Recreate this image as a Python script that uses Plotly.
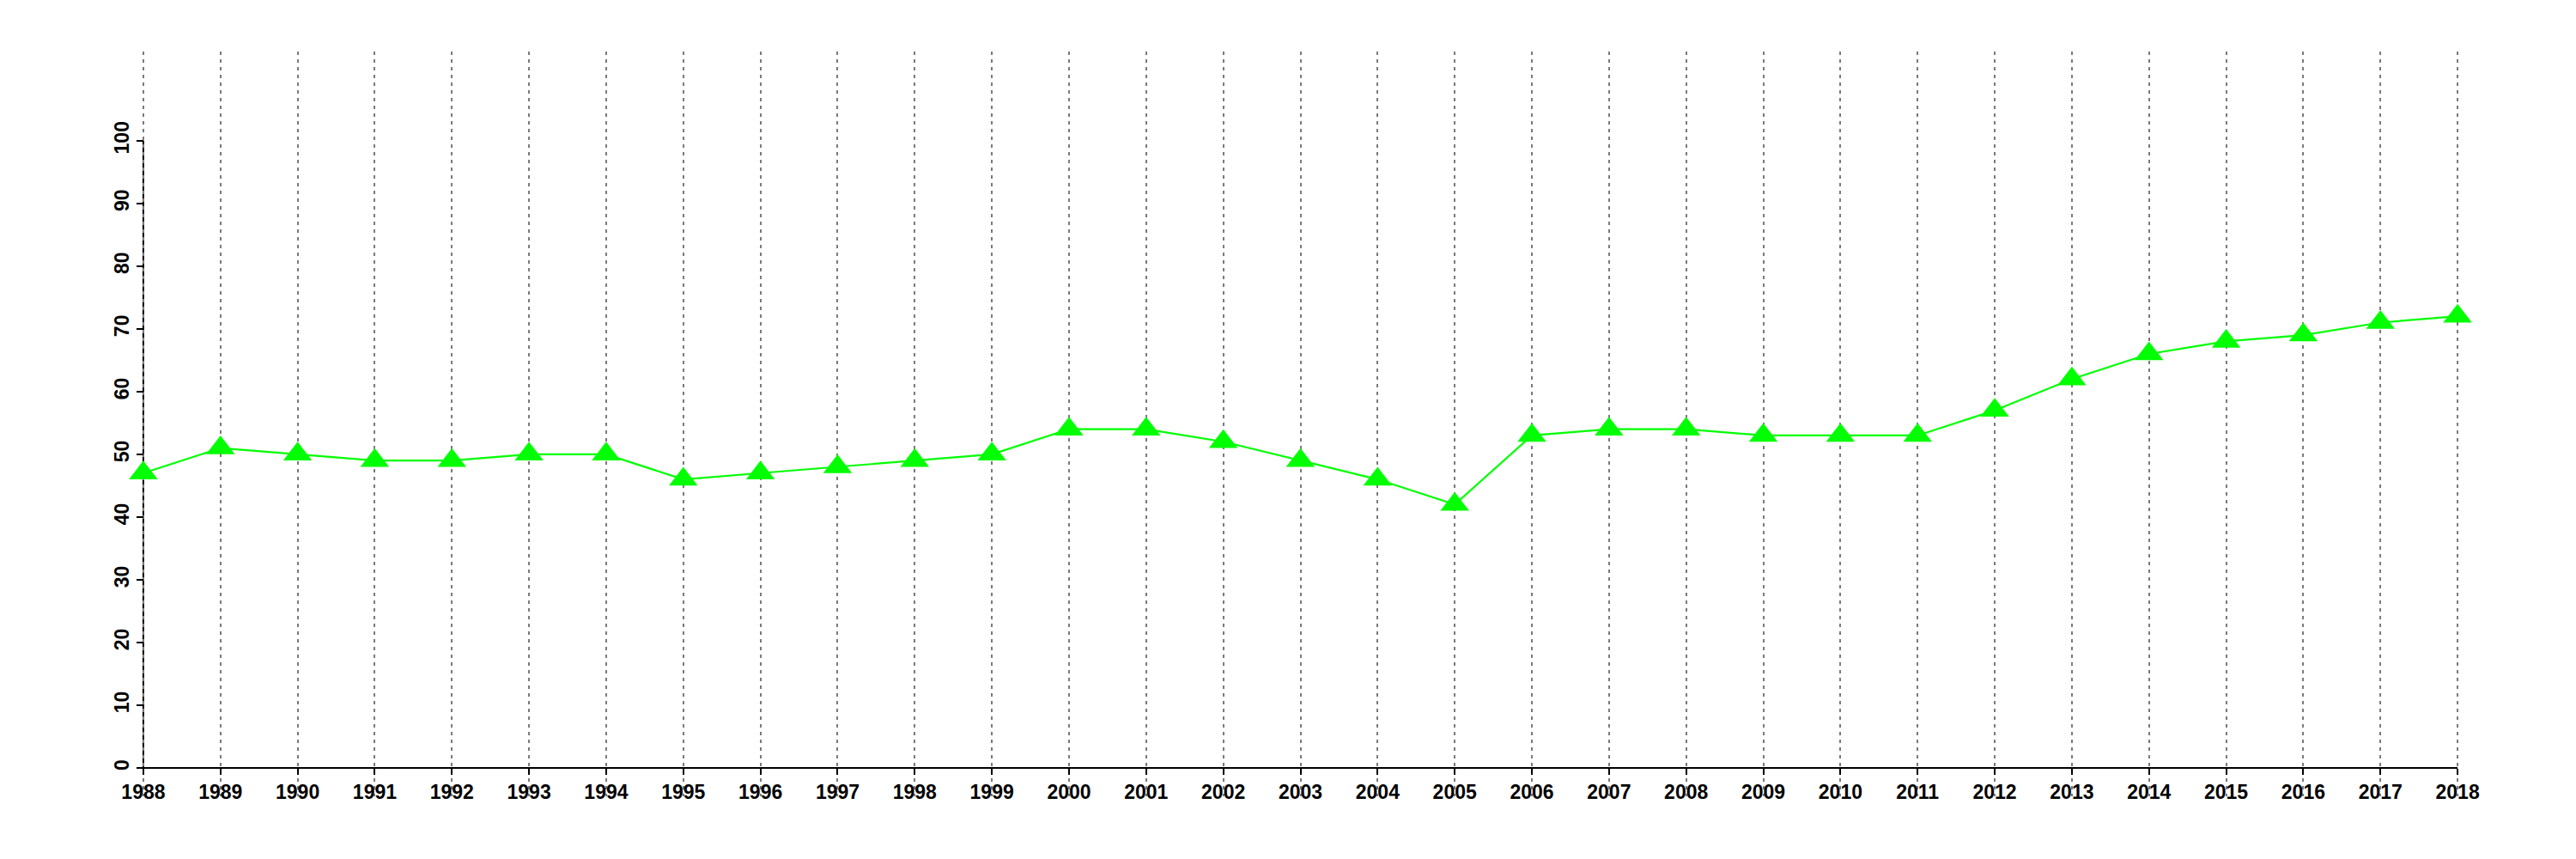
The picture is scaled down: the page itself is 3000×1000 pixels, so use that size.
import plotly.graph_objects as go

years = list(range(1988, 2019))
values = [47, 51, 50, 49, 49, 50, 50, 46, 47, 48, 49, 50, 54, 54, 52, 49, 46, 42,
          53, 54, 54, 53, 53, 53, 57, 62, 66, 68, 69, 71, 72]
y_ticks = list(range(0, 101, 10))

GREEN = "#00ff00"
FONT = dict(family="Liberation Sans, Arial, sans-serif", size=23, color="black")

# the page body has an 8px default margin; compensate so the plot lands where the reference has it
W, H = 2992, 992
L, R, T, B = 114, 93, 52, 73
y_lo, y_hi = -4.52, 114.2
x_lo, x_hi = 1987.5, 2018.5

fig = go.Figure()
fig.add_trace(go.Scatter(
    x=years, y=values, mode="lines+markers",
    line=dict(color=GREEN, width=2.2),
    marker=dict(symbol="triangle-up", size=29, color=GREEN),
    cliponaxis=False, showlegend=False,
))

# axis lines (only over the data extent, as in the reference)
fig.add_shape(type="line", xref="x", yref="y", x0=years[0], x1=years[-1], y0=0, y1=0,
              line=dict(color="black", width=2), layer="below")
fig.add_shape(type="line", xref="x", yref="y", x0=years[0], x1=years[0], y0=0, y1=100,
              line=dict(color="black", width=2), layer="below")

xpos = (0 - y_lo) / (y_hi - y_lo)
ypos = (years[0] - x_lo) / (x_hi - x_lo)

fig.update_layout(
    width=W, height=H,
    margin=dict(l=L, r=R, t=T, b=B, autoexpand=False),
    paper_bgcolor="white", plot_bgcolor="white",
    font=FONT,
    xaxis=dict(
        range=[x_lo, x_hi], tickvals=years, ticktext=[str(y) for y in years],
        showgrid=True, gridcolor="#7a7a7a", gridwidth=2, griddash="4px,5px",
        zeroline=False, showline=False, automargin=False,
        ticks="outside", ticklen=7, tickwidth=2, tickcolor="black",
        anchor="free", position=xpos, side="bottom",
        tickfont=dict(FONT, weight="bold"),
    ),
    yaxis=dict(
        range=[y_lo, y_hi], tickvals=y_ticks, ticktext=[str(v) for v in y_ticks],
        showgrid=False, zeroline=False, showline=False, automargin=False,
        ticks="outside", ticklen=8, tickwidth=2, tickcolor="black",
        tickangle=-90, anchor="free", position=ypos, side="left",
        tickfont=dict(FONT, weight="bold"),
    ),
)

fig.write_html("out.html")
